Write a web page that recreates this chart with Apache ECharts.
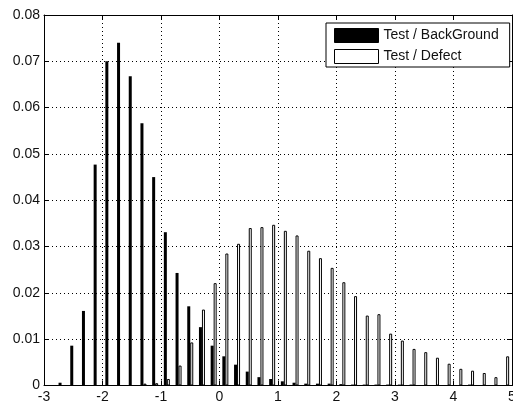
<!DOCTYPE html>
<html>
<head>
<meta charset="utf-8">
<script src="https://cdn.jsdelivr.net/npm/echarts@6/dist/echarts.min.js"></script>
<style>
html,body{margin:0;padding:0;background:#fff;}
#c{width:513px;height:404px;}
</style>
</head>
<body>
<div id="c"></div>
<script>
// Bin centres (x) of the histogram
var binCenters = [-2.7,-2.5,-2.3,-2.1,-1.9,-1.7,-1.5,-1.3,-1.1,-0.9,-0.7,-0.5,-0.3,-0.1,
  0.1,0.3,0.5,0.7,0.9,1.1,1.3,1.5,1.7,1.9,2.1,2.3,2.5,2.7,2.9,3.1,3.3,3.5,3.7,3.9,
  4.1,4.3,4.5,4.7,4.9];
// Test / BackGround
var backgroundValues = [0.0006,0.0086,0.0161,0.0477,0.0700,0.0740,0.0668,0.0566,0.0450,0.0331,
  0.0243,0.0171,0.0126,0.0086,0.0063,0.0045,0.0030,0.0018,0.0014,0.0009,0.0006,0.0004,0.0004,
  0.0004,0.0003,0.0002,0.0002,0.0002,0.0002,0.0002,0.0002,0,0,0,0,0.0002,0,0,0];
// Test / Defect
var defectValues = [0,0,0,0,0,0,0,0.0004,0.0005,0.0014,0.0043,0.0093,0.0164,0.0221,0.0285,
  0.0306,0.0340,0.0342,0.0347,0.0334,0.0324,0.0291,0.0275,0.0254,0.0223,0.0193,0.0151,0.0154,
  0.0112,0.0097,0.0079,0.0072,0.0060,0.0047,0.0036,0.0032,0.0027,0.0018,0.0063];
var seriesNames = ['Test / BackGround','Test / Defect'];
var xTickLabels = ['-3','-2','-1','0','1','2','3','4','5'];
var yTickLabels = ['0','0.01','0.02','0.03','0.04','0.05','0.06','0.07','0.08'];

function pairs(vals){ return binCenters.map(function(x,i){ return [x, vals[i]]; }); }

var FONT = 'Liberation Sans';
var TXT = '#111';
var dotted = {color:'#000', width:1, type:[1,3]};

var chart = echarts.init(document.getElementById('c'), null, {renderer:'canvas'});
chart.setOption({
  animation:false,
  backgroundColor:'#fff',
  grid:{left:44, right:1, top:15, bottom:18.5, containLabel:false, outerBoundsMode:'none'},
  legend:{
    orient:'vertical', left:326, top:23,
    padding:[5,11,3,8], itemGap:6, itemWidth:44, itemHeight:14,
    icon:'rect',
    borderColor:'#000', borderWidth:1, backgroundColor:'#fff',
    textStyle:{fontFamily:FONT, fontSize:14, color:TXT},
    data:[
      {name:seriesNames[0], itemStyle:{color:'#000', borderColor:'#000', borderWidth:1}},
      {name:seriesNames[1], itemStyle:{color:'#fff', borderColor:'#000', borderWidth:1}}
    ]
  },
  xAxis:[{
    type:'value', min:-3, max:5, interval:1, position:'bottom',
    axisLine:{show:true, onZero:false, lineStyle:{color:'#000', width:1}},
    axisTick:{show:true, inside:true, length:5, lineStyle:{color:'#000'}},
    axisLabel:{fontFamily:FONT, fontSize:14, color:TXT, margin:5,
      formatter:function(v){ return xTickLabels[Math.round(v+3)]; }},
    splitLine:{show:true, lineStyle:dotted}
  },{
    type:'value', min:-3, max:5, interval:1, position:'top',
    axisLine:{show:true, onZero:false, lineStyle:{color:'#000', width:1}},
    axisTick:{show:true, inside:true, length:5, lineStyle:{color:'#000'}},
    axisLabel:{show:false}, splitLine:{show:false}
  }],
  yAxis:[{
    type:'value', min:0, max:0.08, interval:0.01, position:'left',
    axisLine:{show:true, onZero:false, lineStyle:{color:'#000', width:1}},
    axisTick:{show:true, inside:true, length:5, lineStyle:{color:'#000'}},
    axisLabel:{fontFamily:FONT, fontSize:14, color:TXT, margin:4,
      formatter:function(v){ return yTickLabels[Math.round(v/0.01)]; }},
    splitLine:{show:true, lineStyle:dotted}
  },{
    type:'value', min:0, max:0.08, interval:0.01, position:'right',
    axisLine:{show:true, onZero:false, lineStyle:{color:'#000', width:1}},
    axisTick:{show:true, inside:true, length:5, lineStyle:{color:'#000'}},
    axisLabel:{show:false}, splitLine:{show:false}
  }],
  series:[{
    name:seriesNames[0], type:'bar', xAxisIndex:0, yAxisIndex:0,
    barWidth:3, barGap:'0%',
    itemStyle:{color:'#000'},
    data:pairs(backgroundValues)
  },{
    name:seriesNames[1], type:'bar', xAxisIndex:0, yAxisIndex:0,
    barWidth:3, barGap:'0%',
    itemStyle:{color:'#fff', borderColor:'#000', borderWidth:1},
    data:pairs(defectValues)
  }]
});
</script>
</body>
</html>
